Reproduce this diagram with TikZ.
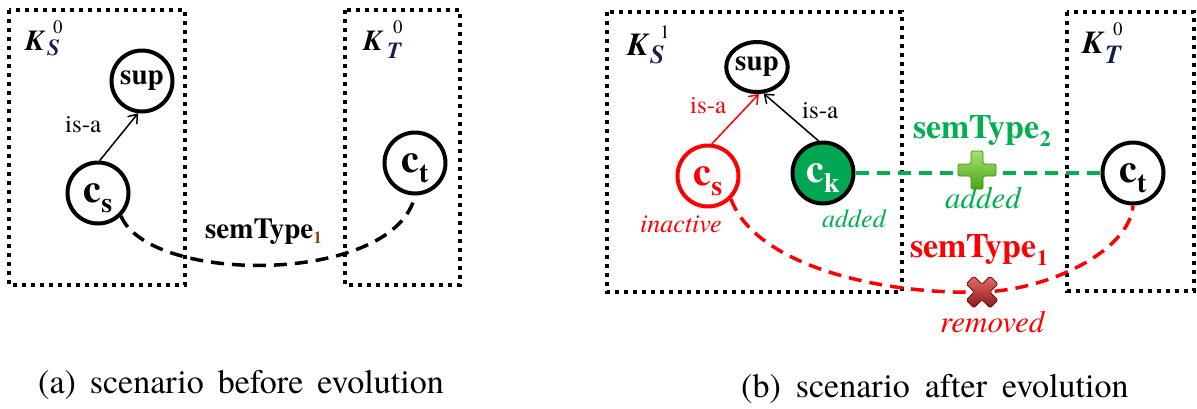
\documentclass[tikz,border=0pt]{standalone}
\usepackage{fontspec}
\setmainfont{texgyretermes}[Extension=.otf, UprightFont=*-regular, BoldFont=*-bold, ItalicFont=*-italic, BoldItalicFont=*-bolditalic]
\usetikzlibrary{arrows.meta,shapes.geometric}
\definecolor{myred}{RGB}{255,0,0}
\definecolor{mygreen}{RGB}{0,176,80}
\definecolor{ckgreen}{RGB}{0,166,81}
\definecolor{navyk}{RGB}{20,30,75}
\definecolor{brownsub}{RGB}{140,70,20}
\newcommand{\fsz}[1]{\fontsize{#1}{#1}\selectfont}
\newcommand{\cname}[2]{\rule{0pt}{29pt}\bfseries\fsz{40}#1\raisebox{-10pt}{\fsz{28}#2}}
\begin{document}
\begin{tikzpicture}[x=1pt,y=-1pt,
  kbox/.style={line width=4pt, dash pattern=on 4pt off 5pt},
  concept/.style={circle,draw,line width=4pt,minimum size=61pt,inner sep=0pt},
  lbl/.style={anchor=base west,inner sep=0pt},
  isa/.style={line width=1.5pt,-{Straight Barb[length=8pt,width=12pt]}},
  semline/.style={line width=3.5pt,dash pattern=on 13pt off 8pt},
]
\useasboundingbox (0,0) rectangle (1197,408);

% ---------- panel (a) ----------
\draw[kbox] (9,10) rectangle (185,285);
\draw[kbox] (345,10) rectangle (460,285);

\node[lbl] (ksaK) at (25,50) {\fsz{29}\bfseries\itshape K};
\node[lbl,text=navyk] (ksaS) at (47,55) {\fsz{23}\bfseries\itshape S};
\node[lbl] (ksa0) at (53,33) {\fsz{19}0};

\node[lbl] (ktaK) at (363,50) {\fsz{29}\bfseries\itshape K};
\node[lbl,text=navyk] (ktaT) at (387,58) {\fsz{23}\bfseries\itshape T};
\node[lbl] (kta0) at (393,33) {\fsz{19}0};

\node[concept] (supa) at (142,81) {\fsz{29}\bfseries sup};
\node[concept] (csa) at (98,193) {\cname{c}{s}};
\node[concept] (cta) at (415,163) {\cname{c}{t}};

\draw[isa] (csa.87) -- (supa.-97);
\node[lbl] (isaa) at (65,132) {\fsz{25}is-a};

\draw[semline] (csa.-45) .. controls (150,285) and (395,285) .. (cta.-90);
\node[lbl] (sema) at (205,238) {\fsz{29}\bfseries semType\raisebox{-5pt}{\fsz{17}\color{brownsub}1}};

% ---------- panel (b) ----------
\draw[kbox] (607,12) rectangle (902,292);
\draw[kbox] (1067,12) rectangle (1194,291);

\node[lbl] (ksbK) at (627,55) {\fsz{32}\bfseries\itshape K};
\node[lbl,text=navyk] (ksbS) at (650,63) {\fsz{26}\bfseries\itshape S};
\node[lbl] (ksb1) at (660,38) {\fsz{19}1};

\node[lbl] (ktbK) at (1082,53) {\fsz{32}\bfseries\itshape K};
\node[lbl,text=navyk] (ktbT) at (1105,63) {\fsz{26}\bfseries\itshape T};
\node[lbl] (ktb0) at (1113,35) {\fsz{19}0};

\node[ellipse,draw,line width=4pt,minimum width=53pt,minimum height=50pt,inner sep=0pt] (supb) at (757,67) {\fsz{29}\bfseries sup};
\node[concept,draw=myred,text=myred] (csb) at (708,176) {\cname{c}{s}};
\node[concept,fill=ckgreen,text=white] (ck) at (823,173) {\cname{c}{k}};
\node[concept] (ctb) at (1133,173) {\cname{c}{t}};

\draw[isa,myred] (csb.83) -- (supb.-86);
\draw[isa] (ck.98) -- (supb.-76);
\node[lbl,text=myred] (isab1) at (690,113) {\fsz{25}is-a};
\node[lbl] (isab2) at (802,118) {\fsz{25}is-a};

\node[lbl,text=myred] (inact) at (640,232) {\fsz{26}\itshape inactive};
\node[lbl,text=mygreen] (addk) at (822,227) {\fsz{26}\itshape added};

\coordinate (xm) at (982,292);
\draw[semline,myred] (csb.-45) .. controls (755,265) and (880,295) .. (xm)
   .. controls (1050,290) and (1130,250) .. (ctb.-90);
\draw[semline,mygreen] (ck.east) -- (ctb.west);

\node[lbl,text=mygreen] (sem2) at (913,138) {\fsz{34}\bfseries semType\raisebox{-8pt}{\fsz{22}2}};
\node[lbl,text=mygreen] (addm) at (945,208) {\fsz{31}\itshape added};
\node[lbl,text=myred] (sem1) at (910,257) {\fsz{34}\bfseries semType\raisebox{-8pt}{\fsz{22}1}};
\node[lbl,text=myred] (remv) at (940,332) {\fsz{31}\itshape removed};

% plus icon
\begin{scope}[shift={(977,170)}]
\shade[top color={rgb,255:red,165;green,225;blue,110},bottom color={rgb,255:red,75;green,165;blue,20},
  draw={rgb,255:red,70;green,140;blue,20},line width=0.8pt,rounded corners=1.5pt]
  (6,-19) -- (6,-6) -- (19,-6) -- (19,6) -- (6,6) -- (6,19) -- (-6,19) -- (-6,6)
  -- (-19,6) -- (-19,-6) -- (-6,-6) -- (-6,-19) -- cycle;
\end{scope}
% cross icon
\begin{scope}[shift={(982,292)}]
\shade[top color={rgb,255:red,225;green,110;blue,110},bottom color={rgb,255:red,145;green,20;blue,20},
  draw={rgb,255:red,120;green,15;blue,15},line width=0.8pt,rounded corners=1.5pt]
  (-8.13,15.91) -- (0,7.78) -- (8.13,15.91) -- (15.91,8.13) -- (7.78,0) -- (15.91,-8.13)
  -- (8.13,-15.91) -- (0,-7.78) -- (-8.13,-15.91) -- (-15.91,-8.13) -- (-7.78,0) -- (-15.91,8.13) -- cycle;
\end{scope}

% captions
\node[lbl] (capa) at (38,393) {\fsz{34}\spaceskip=14pt (a) scenario before evolution};
\node[lbl] (capb) at (741,397) {\fsz{34}\spaceskip=15pt (b) scenario after evolution};
\end{tikzpicture}
\end{document}
